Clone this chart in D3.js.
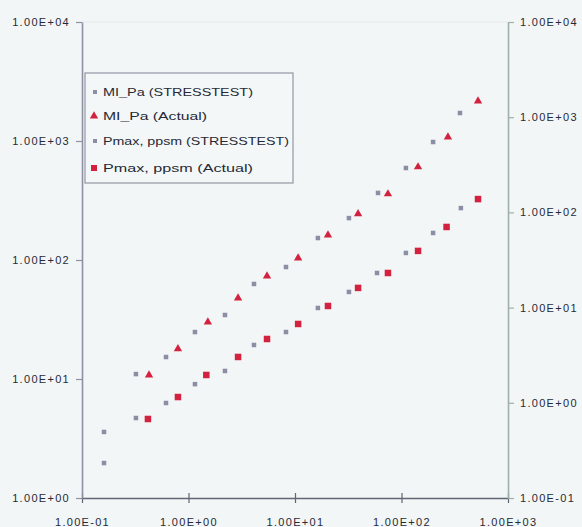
<!DOCTYPE html>
<html>
<head>
<meta charset="utf-8">
<script src="https://cdn.jsdelivr.net/npm/d3@7/dist/d3.min.js"></script>
<style>
  html, body { margin: 0; padding: 0; background: #f3f6f6; }
  svg { display: block; }
  text { font-family: "Liberation Sans", Arial, sans-serif; fill: #262a36; }
</style>
</head>
<body>
<script>
// Decade ticks shared by the axes
const xTicks = [0.1, 1, 10, 100, 1000];
const yLeftTicks = [1, 10, 100, 1000, 10000];
const yRightTicks = [0.1, 1, 10, 100, 1000, 10000];

// MI_Pa series (left axis)
const miStressX = [0.161, 0.321, 0.615, 1.15, 2.20, 4.12, 8.23, 16.4, 32.1, 60.2, 110, 198, 354];
const miStressY = [3.59, 11.0, 15.3, 24.8, 34.5, 62.9, 87.3, 153, 225, 366, 593, 981, 1718];
const miActualX = [0.426, 0.796, 1.52, 2.92, 5.46, 10.7, 20.4, 39.1, 74.6, 143, 273, 523];
const miActualY = [10.8, 17.9, 30.1, 47.9, 73.4, 104, 162, 244, 359, 605, 1081, 2168];

// Pmax series (right axis)
const pStressX = [0.161, 0.321, 0.615, 1.15, 2.20, 4.12, 8.23, 16.4, 32.1, 58.9, 110, 198, 361];
const pStressY = [0.233, 0.692, 0.995, 1.57, 2.16, 4.05, 5.54, 9.91, 14.6, 23.1, 37.5, 60.8, 111];
const pActualX = [0.416, 0.796, 1.47, 2.92, 5.46, 10.7, 20.4, 39.1, 74.6, 143, 265, 523];
const pActualY = [0.676, 1.15, 1.96, 3.03, 4.68, 6.73, 10.4, 16.1, 23.1, 39.4, 70.3, 138];

const legendLabels = [
  "MI_Pa (STRESSTEST)",
  "MI_Pa (Actual)",
  "Pmax, ppsm (STRESSTEST)",
  "Pmax, ppsm (Actual)"
];

const W = 582, H = 527;
const plot = { left: 82, right: 508, top: 22, bottom: 498 };
const grey = "#8a8fa6";
const red = "#d3223f";

const svg = d3.select("body").append("svg").attr("width", W).attr("height", H);
svg.append("rect").attr("width", W).attr("height", H).attr("fill", "#f3f6f6");

const x = d3.scaleLog().domain([0.1, 1000]).range([plot.left, plot.right]);
const yL = d3.scaleLog().domain([1, 10000]).range([plot.bottom, plot.top]);
const yR = d3.scaleLog().domain([0.1, 10000]).range([plot.bottom, plot.top]);

const sci = d => {
  const e = Math.round(Math.log10(d));
  return "1.00E" + (e < 0 ? "-" : "+") + String(Math.abs(e)).padStart(2, "0");
};

// faint top edge of the plot area
svg.append("line")
  .attr("x1", plot.left).attr("x2", plot.right)
  .attr("y1", plot.top).attr("y2", plot.top)
  .attr("stroke", "#e3e8e8").attr("stroke-width", 1);

function styleAxis(g, color, width) {
  g.select(".domain").attr("stroke", color).attr("stroke-width", width);
  g.selectAll(".tick line").attr("stroke", color).attr("stroke-width", 1.2);
  g.selectAll(".tick text")
    .attr("fill", "#262a36")
    .style("font-size", "11px")
    .style("letter-spacing", "1.3px");
}

const gx = svg.append("g")
  .attr("transform", `translate(0,${plot.bottom})`)
  .call(d3.axisBottom(x).tickValues(xTicks).tickFormat(sci)
    .tickSizeInner(5).tickSizeOuter(0).tickPadding(15));
gx.selectAll(".tick line").attr("y1", -5);
styleAxis(gx, "#5f6775", 1.6);

const gl = svg.append("g")
  .attr("transform", `translate(${plot.left},0)`)
  .call(d3.axisLeft(yL).tickValues(yLeftTicks).tickFormat(sci)
    .tickSizeInner(6).tickSizeOuter(0).tickPadding(6));
styleAxis(gl, "#8c91a3", 1.6);

const gr = svg.append("g")
  .attr("transform", `translate(${plot.right},0)`)
  .call(d3.axisRight(yR).tickValues(yRightTicks).tickFormat(sci)
    .tickSizeInner(6).tickSizeOuter(0).tickPadding(6));
styleAxis(gr, "#9fb0ab", 1.6);

// markers
const marks = svg.append("g");
function squares(xs, ys, yScale, size, color) {
  marks.append("g").selectAll("rect").data(xs.map((v, i) => [v, ys[i]])).join("rect")
    .attr("x", d => x(d[0]) - size / 2)
    .attr("y", d => yScale(d[1]) - size / 2)
    .attr("width", size).attr("height", size)
    .attr("fill", color);
}
function triangles(xs, ys, yScale, color) {
  const sym = d3.symbol().type(d3.symbolTriangle).size(30);
  marks.append("g").selectAll("path").data(xs.map((v, i) => [v, ys[i]])).join("path")
    .attr("d", sym)
    .attr("transform", d => `translate(${x(d[0])},${yScale(d[1])})`)
    .attr("fill", color);
}
squares(miStressX, miStressY, yL, 4.5, grey);
triangles(miActualX, miActualY, yL, red);
squares(pStressX, pStressY, yR, 4.5, grey);
squares(pActualX, pActualY, yR, 6.5, red);

// legend
const lg = svg.append("g");
lg.append("rect")
  .attr("x", 85).attr("y", 73).attr("width", 208).attr("height", 110)
  .attr("fill", "#f4f7f7").attr("stroke", "#9a9eaa").attr("stroke-width", 1.3);
const legendY = [92, 116, 141, 168];
const textWidths = [150, 104, 186, 150];
legendLabels.forEach((label, i) => {
  const cy = legendY[i];
  if (i === 1) {
    lg.append("path").attr("d", d3.symbol().type(d3.symbolTriangle).size(30)())
      .attr("transform", `translate(94,${cy})`).attr("fill", red);
  } else if (i === 3) {
    lg.append("rect").attr("x", 91).attr("y", cy - 3).attr("width", 6).attr("height", 6).attr("fill", red);
  } else {
    lg.append("rect").attr("x", 93).attr("y", cy - 2).attr("width", 4).attr("height", 4).attr("fill", grey);
  }
  lg.append("text")
    .attr("x", 103).attr("y", cy + 4)
    .attr("textLength", textWidths[i]).attr("lengthAdjust", "spacingAndGlyphs")
    .style("font-size", "11px")
    .attr("fill", "#1f2230")
    .text(label);
});
</script>
</body>
</html>
